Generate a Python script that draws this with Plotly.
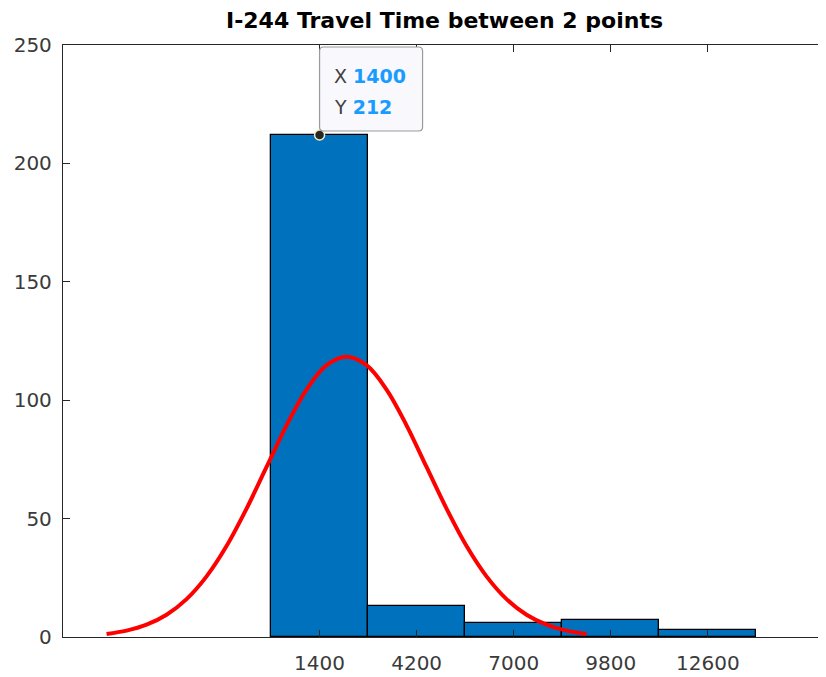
import plotly.graph_objects as go

# Histogram bins (centers) and counts
bin_centers = [1400, 4200, 7000, 9800, 12600]
bin_counts = [212, 13, 6, 7, 3]
bin_width = 2800

# Fitted normal curve
curve_x = [-4743, -4166, -3590, -3013, -2436, -1859, -1283, -706, -129, 448, 1024, 1601,
           2178, 2755, 3332, 3908, 4485, 5062, 5639, 6215, 6792, 7369, 7946, 8522, 9099]
curve_y = [1.3, 2.7, 5.2, 9.4, 16.0, 25.6, 38.4, 54.2, 71.8, 89.4, 104.5, 114.8,
           118.4, 114.8, 104.5, 89.4, 71.8, 54.2, 38.4, 25.6, 16.0, 9.4, 5.2, 2.7, 1.3]

x_ticks = [1400, 4200, 7000, 9800, 12600]
y_ticks = [0, 50, 100, 150, 200, 250]

tip_x, tip_y = 1400, 212
title_text = "I-244 Travel Time between 2 points"

FONT = "DejaVu Sans, Liberation Sans, sans-serif"
AX = "#262626"

fig = go.Figure()
fig.add_trace(go.Bar(
    x=bin_centers, y=bin_counts, width=[bin_width] * len(bin_centers),
    marker=dict(color="#0072BD", line=dict(color="#000000", width=1.3)),
    hoverinfo="skip", showlegend=False,
))
fig.add_trace(go.Scatter(
    x=curve_x, y=curve_y, mode="lines",
    line=dict(color="#FF0000", width=4, shape="spline"),
    hoverinfo="skip", showlegend=False,
))

# Data tip box
r = 4
w, h0, h1 = 103, 4, 88
path = (f"M {r},{h0} L {w - r},{h0} Q {w},{h0} {w},{h0 + r} L {w},{h1 - r} Q {w},{h1} {w - r},{h1} "
        f"L {r},{h1} Q 0,{h1} 0,{h1 - r} L 0,{h0 + r} Q 0,{h0} {r},{h0} Z")
fig.add_shape(type="path", xref="x", yref="y", xsizemode="pixel", ysizemode="pixel",
              xanchor=tip_x, yanchor=tip_y, path=path,
              line=dict(color="#9a9a9a", width=1.2), fillcolor="#F8F8FD", layer="above")

fig.add_trace(go.Scatter(
    x=[tip_x], y=[tip_y], mode="markers",
    marker=dict(size=10, color="#262626", line=dict(color="#F2EFC4", width=1.5)),
    hoverinfo="skip", showlegend=False,
))

blue = "#1A9CFF"
fig.add_annotation(x=tip_x, y=tip_y, xref="x", yref="y", showarrow=False,
                   xanchor="left", yanchor="middle", xshift=12, yshift=59,
                   text=f"X <b><span style='color:{blue}'>{tip_x}</span></b>",
                   font=dict(family=FONT, size=19, color="#404040"))
fig.add_annotation(x=tip_x, y=tip_y, xref="x", yref="y", showarrow=False,
                   xanchor="left", yanchor="middle", xshift=12, yshift=28,
                   text=f"Y <b><span style='color:{blue}'>{tip_y}</span></b>",
                   font=dict(family=FONT, size=19, color="#404040"))

fig.update_layout(
    width=840, height=669,
    margin=dict(l=55, r=0, t=37, b=40),
    plot_bgcolor="white", paper_bgcolor="white",
    bargap=0,
    title=dict(text=f"<b>{title_text}</b>", x=(444.5 - 8) / 840, xref="container",
               xanchor="center",
               y=1 - 12 / 669, yref="container", yanchor="middle",
               font=dict(family=FONT, size=22, color="#000000")),
    xaxis=dict(range=[-6000, 16641], tickvals=x_ticks, ticktext=[str(v) for v in x_ticks],
               showgrid=False, zeroline=False, showline=True, linecolor=AX, linewidth=1.3,
               mirror="ticks", ticks="inside", ticklen=7, tickwidth=1.3, tickcolor=AX,
               ticklabelstandoff=8,
               tickfont=dict(family=FONT, size=20, color="#3a3a3a")),
    yaxis=dict(range=[0, 250], tickvals=y_ticks, showgrid=False, zeroline=False,
               showline=True, linecolor=AX, linewidth=1.3, mirror=False,
               ticks="inside", ticklen=7, tickwidth=1.3, tickcolor=AX,
               ticklabelstandoff=6,
               tickfont=dict(family=FONT, size=20, color="#3a3a3a")),
)

fig.write_html("out.html")
